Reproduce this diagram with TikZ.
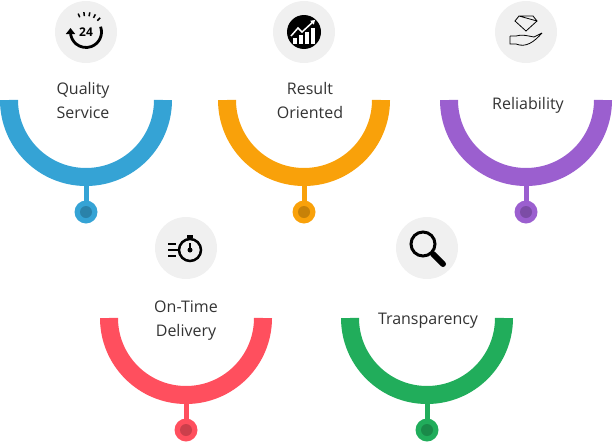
\documentclass[tikz,border=0pt]{standalone}
\usepackage{fontspec}
\setmainfont{Open Sans}
\usetikzlibrary{arrows.meta,calc}
\definecolor{cb}{HTML}{35A3D5}\definecolor{co}{HTML}{F9A10A}\definecolor{cp}{HTML}{9B5FCF}
\definecolor{cr}{HTML}{FF4F5E}\definecolor{cg}{HTML}{21AD5B}\definecolor{ct}{HTML}{333333}
\begin{document}
\begin{tikzpicture}[x=1pt,y=-1pt,
  lbl/.style={font=\fontsize{16}{24}\selectfont,text=ct,align=center},
  ic/.style={circle,fill=black!6,minimum size=62pt,inner sep=0pt},
  ar/.style={line width=18pt}]
\useasboundingbox (0,0) rectangle (613,442);
\newcommand\unit[5]{% name,x,ytop,color,label
  \draw[ar,#4] (#2-77,#3) arc[start angle=180,end angle=0,radius=77];
  \draw[line width=5pt,#4] (#2,#3+80) -- (#2,#3+105);
  \node[circle,fill=#4,minimum size=23pt,inner sep=0pt] (#1d) at (#2,#3+112) {};
  \node[circle,fill=#4!80!black,minimum size=12pt,inner sep=0pt] at (#1d) {};
}
\unit{a}{86}{100}{cb}{}
\unit{b}{304}{100}{co}{}
\unit{c}{526}{100}{cp}{}
\unit{d}{186}{318}{cr}{}
\unit{e}{427}{318}{cg}{}
\node[lbl] (ta) at (83,100) {Quality\\Service};
\node[lbl] (tb) at (310,100) {Result\\Oriented};
\node[lbl] (tc) at (528,105) {Reliability};
\node[lbl] (td) at (186,321) {On-Time\\Delivery};
\node[lbl] (te) at (428,321) {Transparency};
% icons
\node[ic] (ia) at (86,32) {};
\node[ic] (ib) at (304,32) {};
\node[ic] (ic) at (526,32) {};
\node[ic] (id) at (186,248) {};
\node[ic] (ie) at (427,248) {};
% 24h
\draw[line width=2.8pt,-{Triangle[length=6pt,width=9pt]}] ($(ia)+(-20:15.5)$) arc[start angle=-20,end angle=180,radius=15.5] -- ++(0,-4);
\node[font=\bfseries\fontsize{12}{12}\selectfont] at (ia) {24};
\foreach \a in {-45,-62,-79,-96,-113} \draw[line width=1.5pt] ($(ia)+(\a:16)$) -- ($(ia)+(\a:20)$);
% chart
\fill (ib) circle (17);
\foreach \i/\h in {0/6,1/9,2/12,3/16}
  \fill[white] ($(ib)+(-11+6*\i,12)$) rectangle +(3.5,-\h);
\draw[white,line width=1.5pt,-{Triangle[length=4pt,width=5pt]}] ($(ib)+(-13,4)$) -- +(7,-8) -- +(11,-4) -- +(24,-16);
% diamond hand
\draw[line width=0.8pt] ($(ic)+(-7,-16)$) -- ($(ic)+(7,-16)$) -- ($(ic)+(11,-11)$) -- ($(ic)+(0,-1)$) -- ($(ic)+(-11,-11)$) -- cycle -- ($(ic)+(11,-11)$);
\draw[line width=0.8pt] ($(ic)+(-16,4)$) -- ($(ic)+(-10,4)$) .. controls ($(ic)+(-4,2)$) and ($(ic)+(2,4)$) .. ($(ic)+(8,5)$) -- ($(ic)+(16,1)$)
 ($(ic)+(-16,4)$) -- ($(ic)+(-16,12)$) -- ($(ic)+(-10,12)$) .. controls ($(ic)+(0,16)$) and ($(ic)+(8,10)$) .. ($(ic)+(16,1)$);
% stopwatch
\draw[line width=2.5pt] ($(id)+(4,2)$) circle (11);
\draw[line width=2pt] ($(id)+(4,2)$) -- +(0,-7);\fill ($(id)+(4,2)$) circle (2.5);
\fill ($(id)+(1,-13)$) rectangle +(6,3);
\foreach \y/\l in {-4/8,2/10,8/8} \draw[line width=2pt] ($(id)+(-18,\y)$) -- +(\l,0);
% magnifier
\draw[line width=3pt] ($(ie)+(-4,-4)$) circle (12);
\draw[line width=6pt,line cap=round] ($(ie)+(6,6)$) -- +(10,10);
\end{tikzpicture}
\end{document}
